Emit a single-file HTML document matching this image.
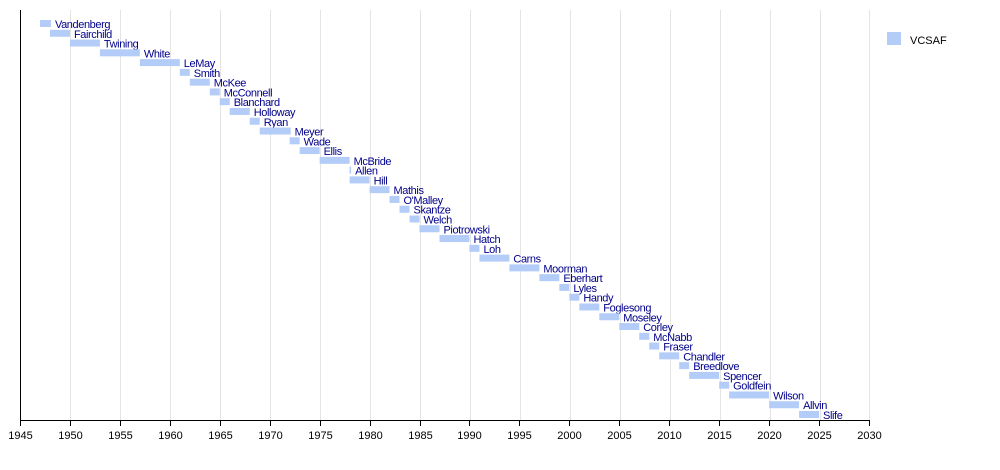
<!DOCTYPE html>
<html><head><meta charset="utf-8"><style>body{margin:0;background:#fff}svg{display:block}text{font-family:"Liberation Sans",sans-serif}</style></head><body>
<svg width="1000" height="470" xmlns="http://www.w3.org/2000/svg">
<g stroke="#e4e4e4" stroke-width="1">
<line x1="70.5" y1="10" x2="70.5" y2="420"/><line x1="120.5" y1="10" x2="120.5" y2="420"/><line x1="170.5" y1="10" x2="170.5" y2="420"/><line x1="220.5" y1="10" x2="220.5" y2="420"/><line x1="270.5" y1="10" x2="270.5" y2="420"/><line x1="320.5" y1="10" x2="320.5" y2="420"/><line x1="370.5" y1="10" x2="370.5" y2="420"/><line x1="420.5" y1="10" x2="420.5" y2="420"/><line x1="470.5" y1="10" x2="470.5" y2="420"/><line x1="520.5" y1="10" x2="520.5" y2="420"/><line x1="570.5" y1="10" x2="570.5" y2="420"/><line x1="620.5" y1="10" x2="620.5" y2="420"/><line x1="670.5" y1="10" x2="670.5" y2="420"/><line x1="720.5" y1="10" x2="720.5" y2="420"/><line x1="770.5" y1="10" x2="770.5" y2="420"/><line x1="820.5" y1="10" x2="820.5" y2="420"/><line x1="869.5" y1="10" x2="869.5" y2="420"/>
</g>
<g id="bars"></g>
<line x1="20.5" y1="10" x2="20.5" y2="420.5" stroke="#000"/>
<line x1="20" y1="420.5" x2="870" y2="420.5" stroke="#000"/>
<g id="ticks" stroke="#000"></g>
<g id="tl" font-size="11" fill="#000" text-anchor="middle"></g>
<rect x="887" y="32" width="14" height="13" fill="#b4cdf8"/>
<text x="910" y="44" font-size="11" fill="#000">VCSAF</text>
<script>
var d=[["Vandenberg",1947,1948.1],["Fairchild",1948,1950],["Twining",1950,1953],["White",1953,1957],["LeMay",1957,1961],["Smith",1961,1962],["McKee",1962,1964],["McConnell",1964,1965],["Blanchard",1965,1966],["Holloway",1966,1968],["Ryan",1968,1969],["Meyer",1969,1972.1],["Wade",1972,1973],["Ellis",1973,1975],["McBride",1975,1978],["Allen",1978,1978.15],["Hill",1978,1980],["Mathis",1980,1982],["O'Malley",1982,1983],["Skantze",1983,1984],["Welch",1984,1985],["Piotrowski",1985,1987],["Hatch",1987,1990],["Loh",1990,1991],["Carns",1991,1994],["Moorman",1994,1997],["Eberhart",1997,1999],["Lyles",1999,2000],["Handy",2000,2001],["Foglesong",2001,2003],["Moseley",2003,2005],["Corley",2005,2007],["McNabb",2007,2008],["Fraser",2008,2009],["Chandler",2009,2011],["Breedlove",2011,2012],["Spencer",2012,2015],["Goldfein",2015,2016],["Wilson",2016,2020],["Allvin",2020,2023],["Slife",2023,2025]];
var ns="http://www.w3.org/2000/svg",g=document.getElementById("bars");
function X(y){return 20+(y-1945)*9.988;}
d.forEach(function(r,i){var t=20+i*9.775;var a=X(r[1]),b=X(r[2]);
var e=document.createElementNS(ns,"rect");e.setAttribute("x",a);e.setAttribute("y",t);e.setAttribute("width",Math.max(b-a,1));e.setAttribute("height",7);e.setAttribute("fill","#b4cdf8");g.appendChild(e);
var s=document.createElementNS(ns,"text");s.setAttribute("x",b+4);s.setAttribute("y",t+8);s.setAttribute("font-size","11");s.setAttribute("fill","#00008b");s.setAttribute("letter-spacing","-0.4");s.textContent=r[0];g.appendChild(s);});
var tk=document.getElementById("ticks"),tl=document.getElementById("tl");
for(var y=1945;y<=2030;y+=5){var x=Math.round(X(y))+0.5;var l=document.createElementNS(ns,"line");l.setAttribute("x1",x);l.setAttribute("x2",x);l.setAttribute("y1",420);l.setAttribute("y2",426);tk.appendChild(l);
var s=document.createElementNS(ns,"text");s.setAttribute("x",x);s.setAttribute("y",439);s.textContent=y;tl.appendChild(s);}
</script>
</svg>
</body></html>
